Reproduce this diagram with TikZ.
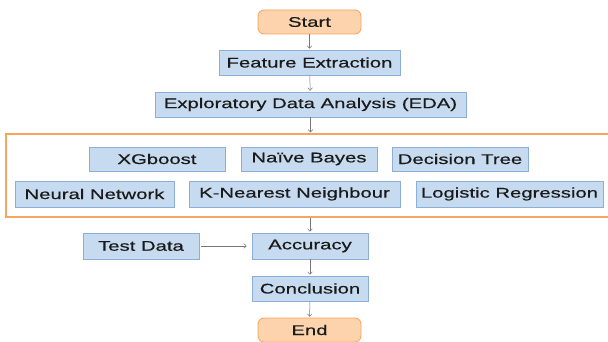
\documentclass[tikz,border=0pt]{standalone}
\usepackage{fontspec}
\setmainfont[FakeStretch=1.45,FakeBold=0.4]{Liberation Sans}
\usetikzlibrary{arrows.meta}
\definecolor{boxfill}{HTML}{C6DBEF}
\definecolor{boxline}{HTML}{8DAFD5}
\definecolor{orfill}{HTML}{FCD3AC}
\definecolor{orline}{HTML}{F4A460}
\definecolor{frline}{HTML}{F6A55E}
\definecolor{txt}{HTML}{1A1A1A}
\definecolor{arr}{HTML}{777777}
\begin{document}
\begin{tikzpicture}[x=1pt,y=-1pt,
  every node/.style={font=\fontsize{14}{16}\selectfont, text=txt, inner sep=0pt},
  bluebox/.style={draw=boxline, fill=boxfill, line width=0.8pt, minimum width=#1},
  termbox/.style={draw=orline, fill=orfill, line width=0.8pt, rounded corners=6pt, minimum width=103pt, minimum height=24pt},
  conn/.style={draw=arr, line width=0.5pt, -{To[length=3pt,width=5pt]}, shorten >=1pt}]
\useasboundingbox (0,0) rectangle (608,342);
\fill[white] (0,0) rectangle (608,342);
\node[termbox] (start) at (309.5,22) {Start};
\node[bluebox=181pt, minimum height=25pt] (fe) at (309.5,62.5) {Feature Extraction};
\node[bluebox=311pt, minimum height=25pt] (eda) at (310.5,104.5) {Exploratory Data Analysis (EDA)};
\node[draw=frline, line width=1.2pt, minimum width=606pt, minimum height=83pt] (frame) at (309,175.5) {};
\node[bluebox=136pt, minimum height=24pt] (xgb) at (157,159) {XGboost};
\node[bluebox=136pt, minimum height=24pt] (nb) at (309,159) {Naïve Bayes};
\node[bluebox=136pt, minimum height=24pt] (dt) at (460,159) {Decision Tree};
\node[bluebox=159pt, minimum height=26pt] (nn) at (94.5,194) {Neural Network};
\node[bluebox=211pt, minimum height=26pt] (knn) at (294.5,194) {K-Nearest Neighbour};
\node[bluebox=187pt, minimum height=26pt] (lr) at (509.5,194) {Logistic Regression};
\node[bluebox=116pt, minimum height=26pt] (td) at (141,246) {Test Data};
\node[bluebox=116pt, minimum height=26pt] (acc) at (310,246) {Accuracy};
\node[bluebox=116pt, minimum height=25pt] (conc) at (310,288.5) {Conclusion};
\node[termbox] (end) at (309.5,330) {End};
\draw[conn] (start) -- (fe);
\draw[conn] (fe) -- (eda);
\draw[conn] (eda.south) -- (eda.south |- frame.north);
\draw[conn] (acc.north |- frame.south) -- (acc.north);
\draw[conn, shorten <=2pt, shorten >=5pt] (td) -- (acc);
\draw[conn] (acc) -- (conc);
\draw[conn] (conc) -- (end);
\end{tikzpicture}
\end{document}
